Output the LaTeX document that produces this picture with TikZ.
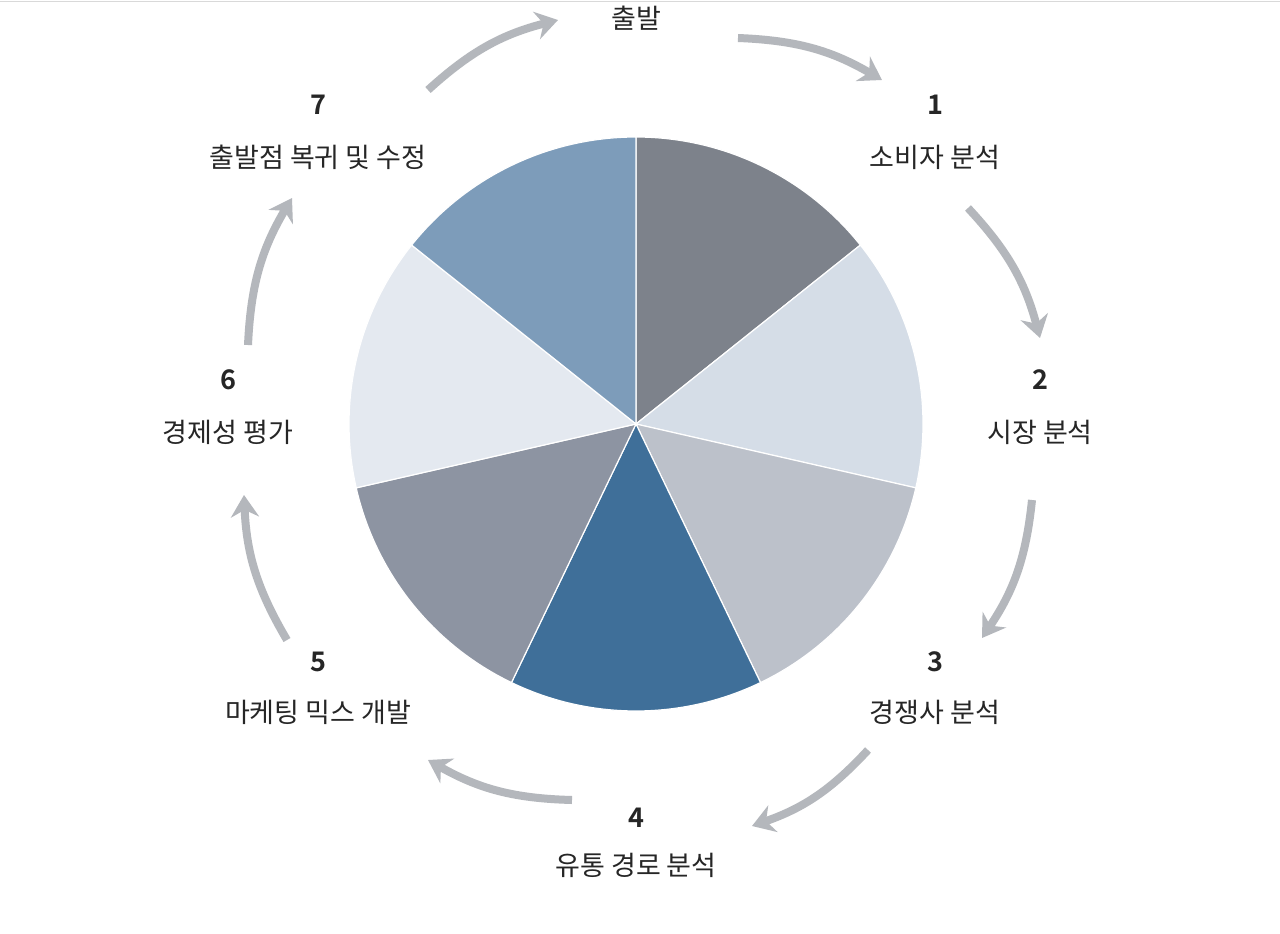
\documentclass[tikz,border=0pt]{standalone}
\usepackage{fontspec}
\setmainfont{Noto Sans CJK KR}
\newfontfamily\numfont{Noto Sans CJK KR Bold}
\usetikzlibrary{arrows.meta}
\definecolor{c1}{HTML}{7D828B}
\definecolor{c2}{HTML}{D5DDE7}
\definecolor{c3}{HTML}{BCC1CA}
\definecolor{c4}{HTML}{3F6F99}
\definecolor{c5}{HTML}{8D94A2}
\definecolor{c6}{HTML}{E4E9F0}
\definecolor{c7}{HTML}{7D9CBA}
\definecolor{arr}{HTML}{B4B7BC}
\tikzset{
 lbl/.style={font=\fontsize{27}{30}\selectfont, text=black!85, inner sep=0pt},
 num/.style={font=\numfont\fontsize{27}{30}\selectfont, text=black!85, inner sep=0pt},
 cyc/.style={draw=arr, line width=8pt, -{Stealth[length=22pt,width=28pt]}, bend left=14}
}
\begin{document}
\begin{tikzpicture}[x=1pt,y=-1pt]
\useasboundingbox (0,0) rectangle (1280,934);
\fill[white] (0,0) rectangle (1280,934);
\draw[black!15] (0,1) -- (1280,1);
\coordinate (c) at (636,424);
\foreach \i/\col in {0/c1,1/c2,2/c3,3/c4,4/c5,5/c6,6/c7}{
  \pgfmathsetmacro\a{90-\i*360/7}
  \pgfmathsetmacro\b{90-(\i+1)*360/7}
  \fill[\col, draw=white, line width=1.2pt] (c) -- ++(\a:287 and -287) arc[start angle=-\a, end angle=-\b, radius=287] -- cycle;
}
\node[lbl] (s) at (636,18) {출발};
\node[num] (n1) at (935,105) {1}; \node[lbl] (t1) at (935,157) {소비자 분석};
\node[num] (n2) at (1040,380) {2}; \node[lbl] (t2) at (1040,432) {시장 분석};
\node[num] (n3) at (935,662) {3}; \node[lbl] (t3) at (935,712) {경쟁사 분석};
\node[num] (n4) at (636,818) {4}; \node[lbl] (t4) at (636,865) {유통 경로 분석};
\node[num] (n5) at (318,662) {5}; \node[lbl] (t5) at (318,712) {마케팅 믹스 개발};
\node[num] (n6) at (228,380) {6}; \node[lbl] (t6) at (228,432) {경제성 평가};
\node[num] (n7) at (318,105) {7}; \node[lbl] (t7) at (318,157) {출발점 복귀 및 수정};
\coordinate (a0) at (428,90); \coordinate (b0) at (558,20);
\coordinate (a1) at (738,38); \coordinate (b1) at (882,80);
\coordinate (a2) at (968,208); \coordinate (b2) at (1040,338);
\coordinate (a3) at (1032,500); \coordinate (b3) at (982,638);
\coordinate (a4) at (868,750); \coordinate (b4) at (752,826);
\coordinate (a5) at (572,800); \coordinate (b5) at (428,760);
\coordinate (a6) at (287,640); \coordinate (b6) at (244,495);
\coordinate (a7) at (248,345); \coordinate (b7) at (292,198);
\foreach \k in {0,...,7}{ \draw[cyc] (a\k) to (b\k); }
\end{tikzpicture}
\end{document}
